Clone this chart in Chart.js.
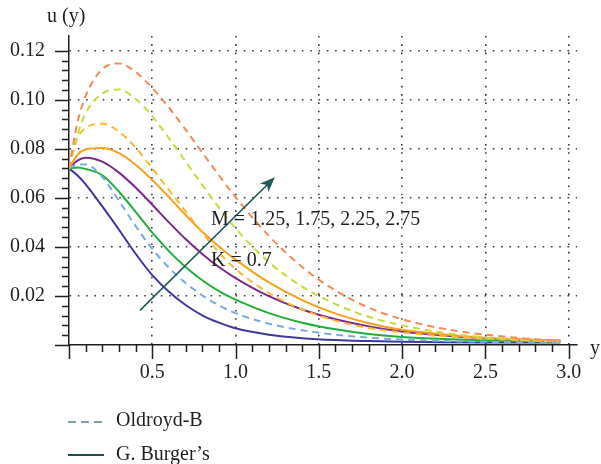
<!DOCTYPE html>
<html lang="en">
<head>
<meta charset="UTF-8">
<title>u(y) profiles</title>
<script src="https://cdn.jsdelivr.net/npm/chart.js"></script>
<style>
  html, body { margin: 0; padding: 0; background: #fff; }
  canvas { display: block; }
</style>
</head>
<body>
<canvas id="chart" width="601" height="464"></canvas>
<script>
// shared abscissa for every curve
const xValues = [0, 0.05, 0.1, 0.2, 0.3, 0.4, 0.5, 0.6, 0.7, 0.8, 0.9, 1.0, 1.2, 1.4, 1.6, 1.8, 2.0, 2.25, 2.5, 2.75, 2.95];

// Oldroyd-B (dashed), M = 1.25, 1.75, 2.25, 2.75
const oldroydM125 = [0.072, 0.0736, 0.0736, 0.0685, 0.0588, 0.0485, 0.0392, 0.0315, 0.0253, 0.0202, 0.0162, 0.013, 0.0087, 0.006, 0.0042, 0.003, 0.0022, 0.0016, 0.0013, 0.0011, 0.001];
const oldroydM175 = [0.072, 0.0842, 0.0885, 0.0902, 0.087, 0.0805, 0.072, 0.0632, 0.0545, 0.0458, 0.0378, 0.031, 0.0212, 0.0145, 0.0099, 0.0069, 0.0051, 0.0036, 0.0026, 0.0019, 0.0014];
const oldroydM225 = [0.072, 0.0855, 0.0945, 0.1025, 0.1042, 0.1003, 0.0932, 0.0843, 0.0748, 0.0653, 0.056, 0.0475, 0.0338, 0.0238, 0.0167, 0.0115, 0.008, 0.005, 0.0031, 0.002, 0.0014];
const oldroydM275 = [0.072, 0.0905, 0.1015, 0.1125, 0.1148, 0.1113, 0.1048, 0.0968, 0.0878, 0.0785, 0.0692, 0.0603, 0.0445, 0.0318, 0.0222, 0.0152, 0.0105, 0.0066, 0.0042, 0.0026, 0.0017];

// G. Burger's (solid), M = 1.25, 1.75, 2.25, 2.75
const burgerM125 = [0.072, 0.0692, 0.0655, 0.0565, 0.047, 0.0372, 0.0285, 0.0217, 0.0163, 0.0121, 0.0091, 0.0068, 0.0042, 0.0028, 0.002, 0.0016, 0.0013, 0.0011, 0.001, 0.001, 0.001];
const burgerM175 = [0.072, 0.0724, 0.0718, 0.0692, 0.0625, 0.0543, 0.0458, 0.0383, 0.0318, 0.0264, 0.022, 0.0185, 0.013, 0.0091, 0.0064, 0.0045, 0.0033, 0.0024, 0.0018, 0.0015, 0.0013];
const burgerM225 = [0.072, 0.0752, 0.0764, 0.0748, 0.0703, 0.0642, 0.0572, 0.05, 0.0432, 0.0371, 0.0318, 0.0273, 0.0199, 0.0145, 0.0105, 0.0076, 0.0055, 0.0039, 0.0028, 0.0021, 0.0017];
const burgerM275 = [0.072, 0.0775, 0.0797, 0.0803, 0.0782, 0.0735, 0.0673, 0.0603, 0.053, 0.0462, 0.0402, 0.0348, 0.0255, 0.0183, 0.0128, 0.0089, 0.0062, 0.0043, 0.003, 0.0022, 0.0018];

// ticks
const xTickValues = [0.5, 1.0, 1.5, 2.0, 2.5, 3.0];
const xTickLabels = ['0.5', '1.0', '1.5', '2.0', '2.5', '3.0'];
const yTickValues = [0.02, 0.04, 0.06, 0.08, 0.10, 0.12];
const yTickLabels = ['0.02', '0.04', '0.06', '0.08', '0.10', '0.12'];

const legendLabels = ['Oldroyd-B', 'G. Burger\u2019s'];
const annotationLabels = ['M = 1.25, 1.75, 2.25, 2.75', 'K = 0.7'];

const FONT = '"Liberation Serif", "DejaVu Serif", serif';
const INK = '#231f20';

function pts(ys) {
    return xValues.map((x, i) => ({ x: x, y: ys[i] }));
}

function curve(label, ys, color, dashed) {
    return {
        label: label,
        data: pts(ys),
        borderColor: color,
        borderWidth: 2,
        borderDash: dashed ? [7, 5] : [],
        pointRadius: 0,
        fill: false,
        cubicInterpolationMode: 'monotone'
    };
}

function labelFor(values, labels, v) {
    const i = values.findIndex(t => Math.abs(t - v) < 1e-9);
    return i >= 0 ? labels[i] : '';
}

// minor/major tick marks, axis titles, arrow, notes and legend
const extras = {
    id: 'extras',
    afterDraw(chart) {
        const { ctx, chartArea: a, scales: { x, y } } = chart;
        ctx.save();
        ctx.strokeStyle = INK;
        ctx.lineWidth = 1.5;
        ctx.beginPath();
        for (let i = 0; i <= 30; i++) {
            const px = Math.round(x.getPixelForValue(i * 0.1)) + 0.5;
            const len = i % 5 === 0 ? 14 : 7;
            ctx.moveTo(px, a.bottom);
            ctx.lineTo(px, a.bottom + len);
        }
        for (let i = 0; i <= 30; i++) {
            const py = Math.round(y.getPixelForValue(i * 0.004)) + 0.5;
            const len = i % 5 === 0 ? 14 : 7;
            ctx.moveTo(a.left - len, py);
            ctx.lineTo(a.left, py);
        }
        ctx.stroke();

        // axis titles
        ctx.fillStyle = INK;
        ctx.font = '20px ' + FONT;
        ctx.textBaseline = 'middle';
        ctx.textAlign = 'left';
        ctx.fillText('u (y)', 47, 17);
        ctx.fillText('y', 590, 349);

        // arrow
        const x0 = x.getPixelForValue(0.426), y0 = y.getPixelForValue(0.0141);
        const x1 = x.getPixelForValue(1.236), y1 = y.getPixelForValue(0.0684);
        const ang = Math.atan2(y1 - y0, x1 - x0);
        ctx.strokeStyle = '#1d5a58';
        ctx.fillStyle = '#1d5a58';
        ctx.lineWidth = 1.6;
        ctx.beginPath();
        ctx.moveTo(x0, y0);
        ctx.lineTo(x1 - 10 * Math.cos(ang), y1 - 10 * Math.sin(ang));
        ctx.stroke();
        ctx.beginPath();
        ctx.moveTo(x1, y1);
        ctx.lineTo(x1 - 15 * Math.cos(ang) + 6 * Math.sin(ang), y1 - 15 * Math.sin(ang) - 6 * Math.cos(ang));
        ctx.lineTo(x1 - 11 * Math.cos(ang), y1 - 11 * Math.sin(ang));
        ctx.lineTo(x1 - 15 * Math.cos(ang) - 6 * Math.sin(ang), y1 - 15 * Math.sin(ang) + 6 * Math.cos(ang));
        ctx.closePath();
        ctx.fill();

        // notes
        ctx.fillStyle = INK;
        ctx.fillText(annotationLabels[0], x.getPixelForValue(0.853), y.getPixelForValue(0.0511));
        ctx.fillText(annotationLabels[1], x.getPixelForValue(0.853), y.getPixelForValue(0.0342));

        // legend
        ctx.lineWidth = 2;
        ctx.strokeStyle = '#7fa2a6';
        ctx.setLineDash([8, 5]);
        ctx.beginPath();
        ctx.moveTo(68, 422);
        ctx.lineTo(104, 422);
        ctx.stroke();
        ctx.setLineDash([]);
        ctx.strokeStyle = '#1e4b4b';
        ctx.beginPath();
        ctx.moveTo(68, 455);
        ctx.lineTo(104, 455);
        ctx.stroke();
        ctx.fillText(legendLabels[0], 116, 421);
        ctx.fillText(legendLabels[1], 116, 455);
        ctx.restore();
    }
};

new Chart(document.getElementById('chart'), {
    type: 'line',
    data: {
        datasets: [
            curve('Oldroyd-B M=2.75', oldroydM275, '#f4895a', true),
            curve('Oldroyd-B M=2.25', oldroydM225, '#c6dc3c', true),
            curve('Oldroyd-B M=1.75', oldroydM175, '#fbb733', true),
            curve('Oldroyd-B M=1.25', oldroydM125, '#79addf', true),
            curve('G. Burger M=2.75', burgerM275, '#f8a01c', false),
            curve('G. Burger M=2.25', burgerM225, '#7a2a89', false),
            curve('G. Burger M=1.75', burgerM175, '#22ae3c', false),
            curve('G. Burger M=1.25', burgerM125, '#3d399c', false)
        ]
    },
    options: {
        responsive: false,
        animation: false,
        layout: { padding: { top: 32, right: 24, left: 0, bottom: 0 } },
        plugins: { legend: { display: false }, tooltip: { enabled: false } },
        scales: {
            x: {
                type: 'linear',
                min: 0,
                max: 3.05,
                afterBuildTicks: s => { s.ticks = xTickValues.map(v => ({ value: v })); },
                afterFit: s => { s.height = 119; },
                ticks: {
                    autoSkip: false,
                    maxRotation: 0,
                    padding: 16,
                    color: INK,
                    font: { family: FONT, size: 20 },
                    callback: v => labelFor(xTickValues, xTickLabels, v)
                },
                grid: { drawTicks: false, color: '#3a3a3a', lineWidth: 1.6 },
                border: { color: INK, width: 1.5, dash: [1.6, 6.7] }
            },
            y: {
                type: 'linear',
                min: 0,
                max: 0.126,
                afterBuildTicks: s => { s.ticks = yTickValues.map(v => ({ value: v })); },
                afterFit: s => { s.width = 69; },
                ticks: {
                    autoSkip: false,
                    padding: 24,
                    color: INK,
                    font: { family: FONT, size: 20 },
                    callback: v => labelFor(yTickValues, yTickLabels, v)
                },
                grid: { drawTicks: false, color: '#3a3a3a', lineWidth: 1.6 },
                border: { color: INK, width: 1.5, dash: [1.6, 6.7] }
            }
        }
    },
    plugins: [extras]
});
</script>
</body>
</html>
